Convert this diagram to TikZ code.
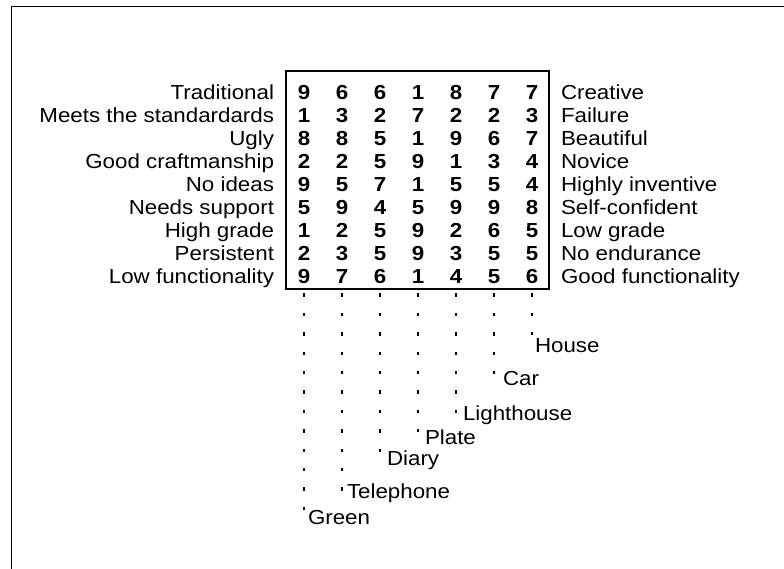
\documentclass[tikz,border=0pt]{standalone}
\usepackage{fontspec}
\setmainfont{Liberation Sans}[FakeStretch=1.1]
\begin{document}
\begin{tikzpicture}[x=1pt,y=-1pt,
  every node/.style={inner sep=0pt, outer sep=0pt, font=\fontsize{20.3}{23}\selectfont},
  leftlbl/.style={anchor=base east},
  rightlbl/.style={anchor=base west},
  digit/.style={anchor=base, font=\fontsize{20.3}{23}\selectfont\bfseries},
  objlbl/.style={anchor=base west},
  dotline/.style={line width=1.5pt, dash pattern=on 3.4pt off 16pt},
  frameline/.style={line width=1.6pt}]
\useasboundingbox (0,0) rectangle (784,569);
% partial outer frame
\coordinate (fbl) at (11.5,569);
\coordinate (ftl) at (11.5,6.5);
\coordinate (ftr) at (784,6.5);
\draw[frameline] (fbl) -- (ftl) -- (ftr);
% grid box
\node[draw, line width=2pt, minimum width=263pt, minimum height=218pt, anchor=north west] (box) at (286,71) {};
% rows
\foreach \r/\L/\R/\vals in {
  0/Traditional/Creative/{9,6,6,1,8,7,7},
  1/Meets the standardards/Failure/{1,3,2,7,2,2,3},
  2/Ugly/Beautiful/{8,8,5,1,9,6,7},
  3/Good craftmanship/Novice/{2,2,5,9,1,3,4},
  4/No ideas/Highly inventive/{9,5,7,1,5,5,4},
  5/Needs support/Self-confident/{5,9,4,5,9,9,8},
  6/High grade/Low grade/{1,2,5,9,2,6,5},
  7/Persistent/No endurance/{2,3,5,9,3,5,5},
  8/Low functionality/Good functionality/{9,7,6,1,4,5,6}} {
  \pgfmathsetmacro{\yb}{99.3+23*\r}
  \node[leftlbl] (L\r) at (274,\yb) {\L};
  \node[rightlbl] (R\r) at (561,\yb) {\R};
  \foreach \v [count=\c from 0] in \vals {
    \pgfmathsetmacro{\xc}{304+38*\c}
    \node[digit] (d\r-\c) at (\xc,\yb) {\v};
  }
}
% dotted lines to objects
\foreach \c/\yend in {0/510.9, 1/490.5, 2/451.7, 3/432.3, 4/412.9, 5/374.1, 6/335.3} {
  \pgfmathsetmacro{\xc}{304+38*\c}
  \coordinate (t\c) at (\xc,293.3);
  \coordinate (e\c) at (\xc,\yend);
  \draw[dotline] (t\c) -- (e\c);
}
\node[objlbl] (green) at (308,524.3) {Green};
\node[objlbl] (telephone) at (347,498.3) {Telephone};
\node[objlbl] (diary) at (387,465.3) {Diary};
\node[objlbl] (plate) at (425,444.3) {Plate};
\node[objlbl] (lighthouse) at (463,420.3) {Lighthouse};
\node[objlbl] (car) at (503,385.3) {Car};
\node[objlbl] (house) at (535,352.3) {House};
\end{tikzpicture}
\end{document}
